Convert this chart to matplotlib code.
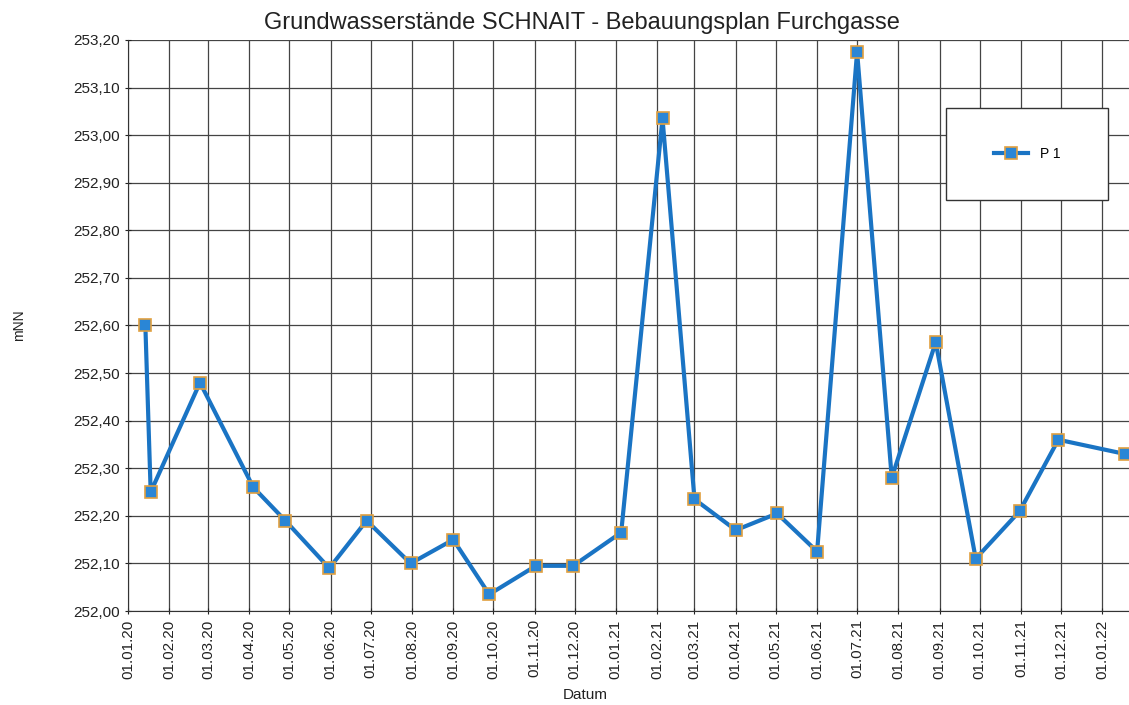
import numpy as np
import matplotlib
matplotlib.use("Agg")
import matplotlib.pyplot as plt
import matplotlib.dates as mdates
from matplotlib.ticker import FuncFormatter, MultipleLocator
from matplotlib.patches import Rectangle
import pandas as pd

plt.rcParams['font.family'] = ['Liberation Sans', 'DejaVu Sans']

datum = ["2020-01-14", "2020-01-18", "2020-02-24", "2020-04-04", "2020-04-28",
         "2020-05-31", "2020-06-28", "2020-07-31", "2020-09-01", "2020-09-28",
         "2020-11-02", "2020-11-30", "2021-01-05", "2021-02-05", "2021-03-01",
         "2021-04-01", "2021-05-02", "2021-06-01", "2021-07-01", "2021-07-27",
         "2021-08-29", "2021-09-28", "2021-10-31", "2021-11-29", "2022-01-18"]
wasserstand = [252.60, 252.25, 252.48, 252.26, 252.19,
               252.09, 252.19, 252.10, 252.15, 252.035,
               252.095, 252.095, 252.165, 253.035, 252.235,
               252.17, 252.205, 252.125, 253.175, 252.28,
               252.565, 252.11, 252.21, 252.36, 252.33]

x = pd.to_datetime(datum)

fig = plt.figure(figsize=(11.29, 7.05), dpi=100)
ax = fig.add_axes([0.1134, 0.1333, 0.8866, 0.81])

ax.plot(x, wasserstand, color="#1a74c4", lw=3, marker="s", ms=8,
        mfc="#2a86d6", mec="#e0a040", mew=1.2, label="P 1", zorder=3)

ax.set_xlim(pd.Timestamp("2020-01-01"), pd.Timestamp("2022-01-21"))
ax.set_ylim(252.0, 253.2)
ax.yaxis.set_major_locator(MultipleLocator(0.1))
ax.yaxis.set_major_formatter(FuncFormatter(lambda v, p: f"{v:.2f}".replace(".", ",")))
ax.xaxis.set_major_locator(mdates.MonthLocator(bymonthday=1))
ax.xaxis.set_major_formatter(mdates.DateFormatter("%d.%m.%y"))
plt.setp(ax.get_xticklabels(), rotation=90)
ax.tick_params(labelsize=11, length=5, direction="inout", colors="#222")

ax.grid(True, color="#444", lw=0.9)
for s in ["top", "right"]:
    ax.spines[s].set_visible(False)
ax.spines["left"].set_color("#333")
ax.spines["bottom"].set_color("#333")

ax.set_title("Grundwasserstände SCHNAIT - Bebauungsplan Furchgasse",
             fontsize=17, color="#222", pad=8, x=0.4535)
ax.set_xlabel("Datum", fontsize=11, color="#222")
ax.xaxis.set_label_coords(0.457, -0.135)
ax.set_ylabel("mNN", fontsize=10, color="#222")
ax.yaxis.set_label_coords(-0.102, 0.5)

# Legende mit Rahmen
ax.add_patch(Rectangle((0.817, 0.72), 0.162, 0.161, transform=ax.transAxes,
                       facecolor="white", edgecolor="#333", lw=1, zorder=4))
ax.legend(loc="center", bbox_to_anchor=(0.817, 0.72, 0.162, 0.161),
          frameon=False, fontsize=10, handlelength=2.5).set_zorder(5)

fig.savefig("out.png", dpi=100)
